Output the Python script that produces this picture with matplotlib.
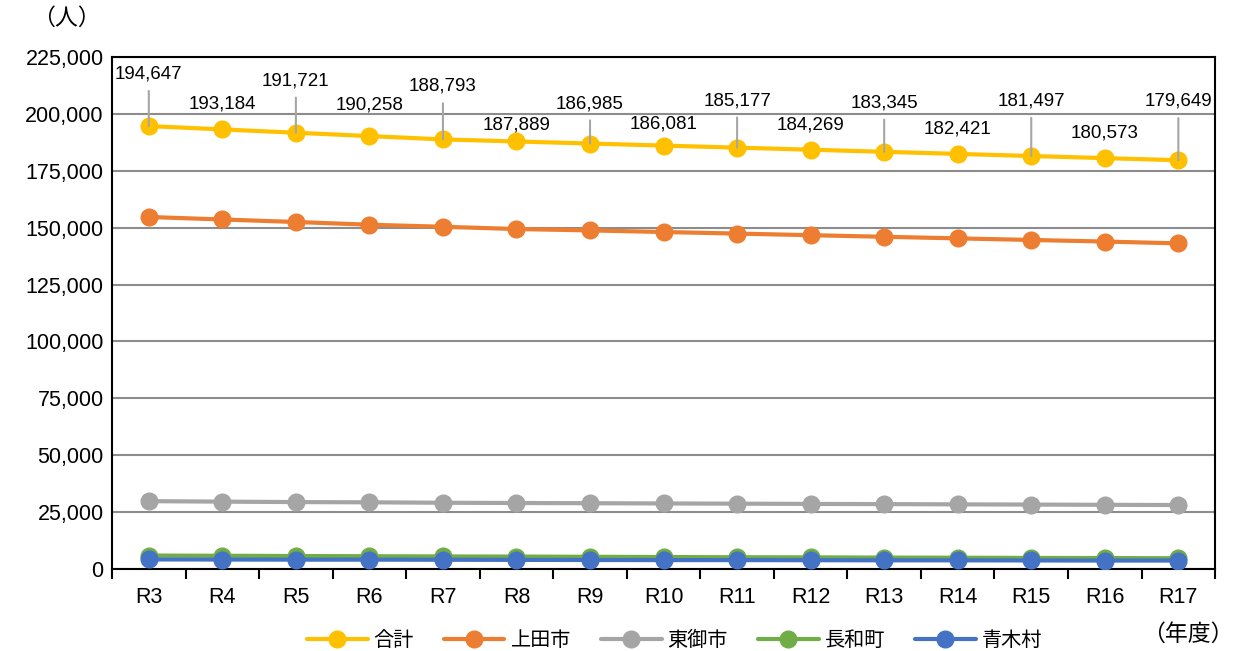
import numpy as np
import matplotlib
matplotlib.use("Agg")
import matplotlib.pyplot as plt
from matplotlib.ticker import FuncFormatter, MultipleLocator

plt.rcParams['font.family'] = ['Liberation Sans', 'Noto Sans CJK JP']

years = ["R3", "R4", "R5", "R6", "R7", "R8", "R9", "R10",
         "R11", "R12", "R13", "R14", "R15", "R16", "R17"]

total = [194647, 193184, 191721, 190258, 188793, 187889, 186985, 186081,
         185177, 184269, 183345, 182421, 181497, 180573, 179649]
ueda = [154700, 153600, 152500, 151300, 150400, 149400, 148800, 148100,
        147400, 146700, 146000, 145300, 144600, 143900, 143100]
tomi = [29800, 29600, 29400, 29300, 29100, 29000, 28900, 28800,
        28700, 28600, 28500, 28400, 28300, 28200, 28100]
nagawa = [5900, 5800, 5700, 5600, 5500, 5450, 5350, 5250,
          5150, 5100, 5000, 4950, 4850, 4800, 4700]
aoki = [4200, 4150, 4100, 4100, 4050, 4000, 3950, 3900,
        3900, 3850, 3800, 3800, 3750, 3700, 3700]

series = [
    ("合計", total, "#FFC000"),
    ("上田市", ueda, "#ED7D31"),
    ("東御市", tomi, "#A5A5A5"),
    ("長和町", nagawa, "#70AD47"),
    ("青木村", aoki, "#4472C4"),
]

# label heights above the point (pixels), leader line on the high ones
label_offsets = [52, 25, 52, 31, 53, 16, 40, 22, 47, 25, 49, 25, 55, 25, 59]

fig = plt.figure(figsize=(12.38, 6.51), dpi=100)
ax = fig.add_axes([0.0905, 0.126, 0.891, 0.7864])

x = np.arange(len(years))
for name, vals, color in series:
    ax.plot(x, vals, color=color, lw=3, marker="o", markersize=12,
            label=name, solid_capstyle="round", zorder=3)

px = 72 / 100
for i, (v, off) in enumerate(zip(total, label_offsets)):
    if off > 35:
        ax.annotate(f"{v:,}", (i, v), xytext=(0, off * px), textcoords="offset points",
                    ha="center", va="center", fontsize=13.5,
                    arrowprops=dict(arrowstyle="-", color="#A6A6A6", lw=1.5,
                                    shrinkA=4, shrinkB=0), zorder=4)
    else:
        ax.annotate(f"{v:,}", (i, v), xytext=(0, off * px), textcoords="offset points",
                    ha="center", va="center", fontsize=13.5, zorder=4)

ax.set_xlim(-0.5, len(years) - 0.5)
ax.set_ylim(0, 225000)
ax.yaxis.set_major_locator(MultipleLocator(25000))
ax.yaxis.set_major_formatter(FuncFormatter(lambda v, p: f"{int(v):,}"))
ax.grid(axis="y", color="#8C8C8C", lw=1.5, zorder=0)
ax.set_axisbelow(True)

ax.set_xticks(x)
ax.set_xticklabels(years)
ax.set_xticks(np.arange(-0.5, len(years), 1), minor=True)
ax.tick_params(axis="x", which="major", length=0, labelsize=15.5, pad=13)
ax.tick_params(axis="x", which="minor", length=7, width=1.5, direction="out")
ax.tick_params(axis="y", length=0, labelsize=15.5, pad=6)

for s in ax.spines.values():
    s.set_color("black")
    s.set_linewidth(1.5)

fig.text(0.026, 0.972, "（人）", fontsize=16.5, ha="left", va="center")
fig.text(0.996, 0.025, "（年度）", fontsize=16.5, ha="right", va="center")

ax.legend(loc="center", bbox_to_anchor=(0.51, -0.14), ncol=5, frameon=False,
          fontsize=14.5, handlelength=3.0, columnspacing=1.5, handletextpad=0.3)

fig.savefig("out.png", dpi=100)
